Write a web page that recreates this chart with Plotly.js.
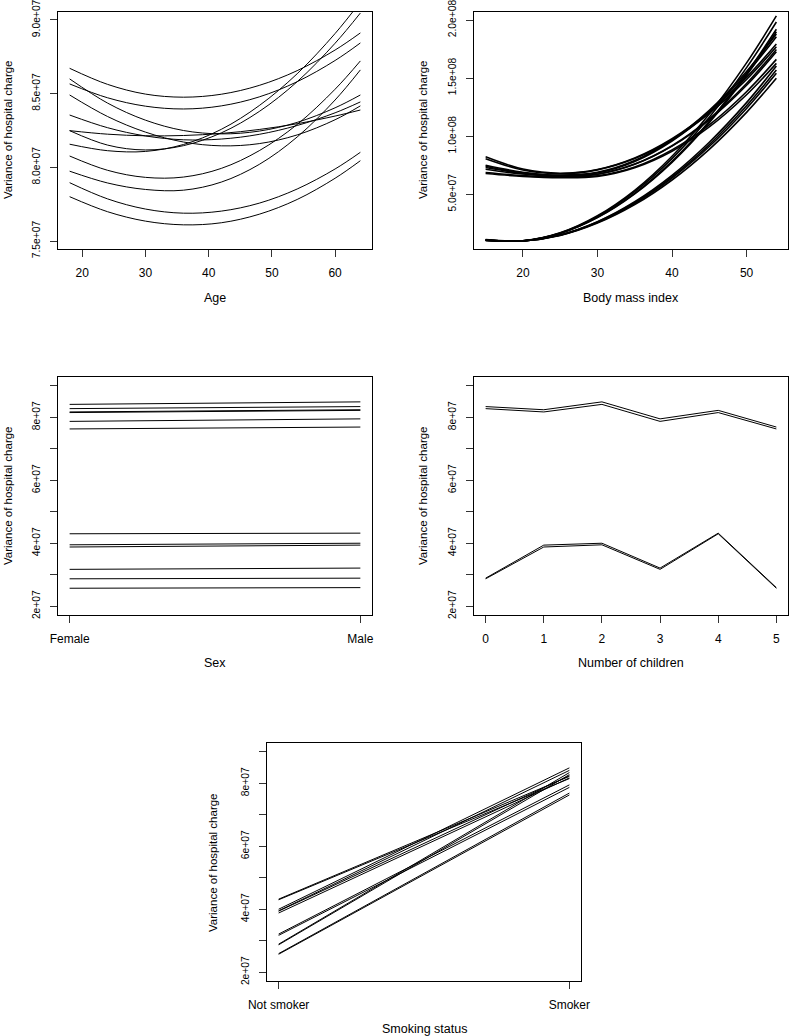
<!DOCTYPE html>
<html>
<head>
<meta charset="utf-8">
<script src="https://cdn.plot.ly/plotly-3.0.1.min.js"></script>
<style>
  html, body { margin: 0; padding: 0; background: #fff; }
  #chart { width: 789px; height: 1036px; }
</style>
</head>
<body>
<div id="chart"></div>
<script>
/***********
  DATA
************/

// Age panel: variance read at these ages for each curve
const ageGrid = [18, 24, 30, 36, 42, 48, 54, 60, 64];
const ageCurves = [
  [8.672e7, 8.563e7, 8.497e7, 8.476e7, 8.496e7, 8.556e7, 8.656e7, 8.796e7, 8.912e7],
  [8.566e7, 8.472e7, 8.415e7, 8.396e7, 8.417e7, 8.478e7, 8.581e7, 8.725e7, 8.844e7],
  [8.600e7, 8.436e7, 8.320e7, 8.250e7, 8.227e7, 8.246e7, 8.305e7, 8.404e7, 8.491e7],
  [8.491e7, 8.345e7, 8.239e7, 8.172e7, 8.146e7, 8.161e7, 8.220e7, 8.323e7, 8.417e7],
  [8.355e7, 8.269e7, 8.213e7, 8.187e7, 8.192e7, 8.224e7, 8.284e7, 8.370e7, 8.444e7],
  [8.249e7, 8.225e7, 8.214e7, 8.216e7, 8.230e7, 8.257e7, 8.296e7, 8.348e7, 8.389e7],
  [8.249e7, 8.151e7, 8.118e7, 8.147e7, 8.234e7, 8.379e7, 8.581e7, 8.842e7, 9.047e7],
  [8.157e7, 8.113e7, 8.108e7, 8.155e7, 8.258e7, 8.419e7, 8.635e7, 8.908e7, 9.122e7],
  [8.077e7, 7.980e7, 7.932e7, 7.934e7, 7.993e7, 8.113e7, 8.291e7, 8.530e7, 8.722e7],
  [7.974e7, 7.894e7, 7.850e7, 7.845e7, 7.900e7, 8.020e7, 8.206e7, 8.457e7, 8.661e7],
  [7.896e7, 7.786e7, 7.717e7, 7.689e7, 7.703e7, 7.757e7, 7.853e7, 7.989e7, 8.102e7],
  [7.801e7, 7.699e7, 7.635e7, 7.610e7, 7.624e7, 7.682e7, 7.782e7, 7.926e7, 8.045e7]
];

// BMI panel
const bmiGrid = [15, 20, 25, 30, 35, 40, 45, 50, 54];
const bmiCurves = [
  [8.22e7, 7.17e7, 6.81e7, 7.14e7, 8.13e7, 9.79e7, 1.210e8, 1.508e8, 1.793e8],
  [8.06e7, 7.09e7, 6.77e7, 7.10e7, 8.07e7, 9.69e7, 1.197e8, 1.489e8, 1.770e8],
  [7.50e7, 6.90e7, 6.65e7, 6.89e7, 7.90e7, 9.67e7, 1.223e8, 1.557e8, 1.879e8],
  [7.42e7, 6.84e7, 6.61e7, 6.84e7, 7.83e7, 9.59e7, 1.210e8, 1.539e8, 1.856e8],
  [7.30e7, 6.79e7, 6.56e7, 6.73e7, 7.60e7, 9.18e7, 1.149e8, 1.453e8, 1.747e8],
  [7.16e7, 6.74e7, 6.56e7, 6.73e7, 7.58e7, 9.14e7, 1.141e8, 1.438e8, 1.727e8],
  [6.87e7, 6.61e7, 6.48e7, 6.60e7, 7.35e7, 8.82e7, 1.098e8, 1.383e8, 1.661e8],
  [6.79e7, 6.54e7, 6.43e7, 6.54e7, 7.29e7, 8.71e7, 1.080e8, 1.357e8, 1.627e8],
  [1.10e7, 1.00e7, 1.68e7, 3.15e7, 5.34e7, 8.27e7, 1.192e8, 1.631e8, 2.035e8],
  [1.08e7, 0.99e7, 1.67e7, 3.09e7, 5.23e7, 8.07e7, 1.163e8, 1.590e8, 1.983e8],
  [1.06e7, 0.99e7, 1.64e7, 3.02e7, 5.08e7, 7.83e7, 1.128e8, 1.541e8, 1.920e8],
  [1.05e7, 0.99e7, 1.63e7, 2.99e7, 5.04e7, 7.75e7, 1.116e8, 1.524e8, 1.899e8],
  [1.05e7, 0.98e7, 1.50e7, 2.64e7, 4.36e7, 6.63e7, 9.48e7, 1.289e8, 1.604e8],
  [1.04e7, 0.98e7, 1.49e7, 2.61e7, 4.27e7, 6.50e7, 9.28e7, 1.262e8, 1.569e8],
  [1.03e7, 0.98e7, 1.48e7, 2.57e7, 4.21e7, 6.39e7, 9.11e7, 1.239e8, 1.541e8],
  [1.02e7, 0.98e7, 1.46e7, 2.52e7, 4.11e7, 6.23e7, 8.87e7, 1.205e8, 1.498e8]
];

// Children / sex / smoking panels
const childrenLevels = [0, 1, 2, 3, 4, 5];
const smokerMale      = [8.34e7, 8.24e7, 8.49e7, 7.95e7, 8.22e7, 7.69e7];
const smokerFemale    = [8.275e7, 8.17e7, 8.41e7, 7.87e7, 8.15e7, 7.63e7];
const nonSmokerMale   = [2.89e7, 3.94e7, 4.00e7, 3.21e7, 4.32e7, 2.59e7];
const nonSmokerFemale = [2.87e7, 3.88e7, 3.95e7, 3.17e7, 4.30e7, 2.57e7];

const sexLabels = ['Female', 'Male'];
const smokeLabels = ['Not smoker', 'Smoker'];

const yTitle = 'Variance of hospital charge';

const FONT = 'Liberation Sans, Arial, Helvetica, sans-serif';

/***********
  FUNCTIONS
************/

function lineTrace(x, y, xa, ya, w, shape) {
  return {
    x: x, y: y, xaxis: xa, yaxis: ya,
    type: 'scatter', mode: 'lines', hoverinfo: 'skip',
    line: { color: '#000', width: w, shape: shape || 'linear', smoothing: 1 }
  };
}

function axisBase(extra, fontSize) {
  return Object.assign({
    showline: true, mirror: true, linecolor: '#000', linewidth: 1,
    ticks: 'outside', ticklen: 7, tickcolor: '#333', tickwidth: 1,
    showgrid: false, zeroline: false, fixedrange: true,
    tickfont: { family: FONT, size: fontSize, color: '#000' },
    ticklabelstandoff: 6, ticklabeloverflow: 'allow'
  }, extra);
}

function xAxis(extra) { return axisBase(extra, 12); }
function yAxis(extra) { return axisBase(Object.assign({ tickangle: -90 }, extra), 10.3); }

function buildTraces() {
  let traces = [];

  // Age
  ageCurves.forEach(c => traces.push(lineTrace(ageGrid, c, 'x', 'y', 1, 'spline')));

  // BMI
  bmiCurves.forEach(c => traces.push(lineTrace(bmiGrid, c, 'x2', 'y2', 1.6, 'spline')));

  // Sex: one line per children level and smoking group
  childrenLevels.forEach((c, i) => {
    traces.push(lineTrace([1, 2], [smokerFemale[i], smokerMale[i]], 'x3', 'y3', 1));
    traces.push(lineTrace([1, 2], [nonSmokerFemale[i], nonSmokerMale[i]], 'x3', 'y3', 1));
  });

  // Number of children
  [smokerMale, smokerFemale, nonSmokerMale, nonSmokerFemale].forEach(s =>
    traces.push(lineTrace(childrenLevels, s, 'x4', 'y4', 1)));

  // Smoking status: one line per children level and sex
  childrenLevels.forEach((c, i) => {
    traces.push(lineTrace([1, 2], [nonSmokerFemale[i], smokerFemale[i]], 'x5', 'y5', 1));
    traces.push(lineTrace([1, 2], [nonSmokerMale[i], smokerMale[i]], 'x5', 'y5', 1));
  });

  return traces;
}

function px(xp) { return xp / 789; }
function py(yp) { return 1 - yp / 1036; }

function title(text, xp, yp, angle, size) {
  return {
    text: text, xref: 'paper', yref: 'paper', x: px(xp), y: py(yp),
    xanchor: 'center', yanchor: 'middle', showarrow: false, textangle: angle || 0,
    font: { family: FONT, size: size || 12.5, color: '#000' }
  };
}

function init() {
  const midTicks = [2e7, 3e7, 4e7, 5e7, 6e7, 7e7, 8e7, 9e7];
  const midText = ['2e+07', '', '4e+07', '', '6e+07', '', '8e+07', ''];

  let layout = {
    width: 789, height: 1036,
    margin: { l: 0, r: 0, t: 0, b: 0 },
    paper_bgcolor: '#fff', plot_bgcolor: '#fff',
    showlegend: false,
    font: { family: FONT, size: 12, color: '#000' },

    xaxis: xAxis({ domain: [px(58), px(372)], range: [16.16, 65.84], anchor: 'y',
      tickvals: [20, 30, 40, 50, 60] }),
    yaxis: yAxis({ domain: [py(249), py(12)], range: [7.446e7, 9.054e7], anchor: 'x',
      tickvals: [7.5e7, 8.0e7, 8.5e7, 9.0e7],
      ticktext: ['7.5e+07', '8.0e+07', '8.5e+07', '9.0e+07'] }),

    xaxis2: xAxis({ domain: [px(474), px(788)], range: [13.44, 55.56], anchor: 'y2',
      tickvals: [20, 30, 40, 50] }),
    yaxis2: yAxis({ domain: [py(249), py(12)], range: [2.9e6, 2.069e8], anchor: 'x2',
      tickvals: [5e7, 1e8, 1.5e8, 2e8],
      ticktext: ['5.0e+07', '1.0e+08', '1.5e+08', '2.0e+08'] }),

    xaxis3: xAxis({ domain: [px(58), px(372)], range: [0.96, 2.04], anchor: 'y3',
      tickvals: [1, 2], ticktext: sexLabels }),
    yaxis3: yAxis({ domain: [py(615), py(377)], range: [1.72e7, 9.28e7], anchor: 'x3',
      tickvals: midTicks, ticktext: midText }),

    xaxis4: xAxis({ domain: [px(474), px(788)], range: [-0.2, 5.2], anchor: 'y4',
      tickvals: childrenLevels }),
    yaxis4: yAxis({ domain: [py(615), py(377)], range: [1.72e7, 9.28e7], anchor: 'x4',
      tickvals: midTicks, ticktext: midText }),

    xaxis5: xAxis({ domain: [px(267), px(581)], range: [0.96, 2.04], anchor: 'y5',
      tickvals: [1, 2], ticktext: smokeLabels }),
    yaxis5: yAxis({ domain: [py(981), py(743)], range: [1.72e7, 9.28e7], anchor: 'x5',
      tickvals: midTicks, ticktext: midText }),

    annotations: [
      title('Age', 215, 298),
      title('Body mass index', 631, 298),
      title('Sex', 215, 663),
      title('Number of children', 631, 663),
      title('Smoking status', 424, 1029),
      title(yTitle, 8, 130, -90, 11.5),
      title(yTitle, 423, 130, -90, 11.5),
      title(yTitle, 8, 496, -90, 11.5),
      title(yTitle, 423, 496, -90, 11.5),
      title(yTitle, 213, 862, -90, 11.5)
    ]
  };

  Plotly.newPlot('chart', buildTraces(), layout, { staticPlot: true, displayModeBar: false });
}

/***********
  INIT
************/
init();
</script>
</body>
</html>
